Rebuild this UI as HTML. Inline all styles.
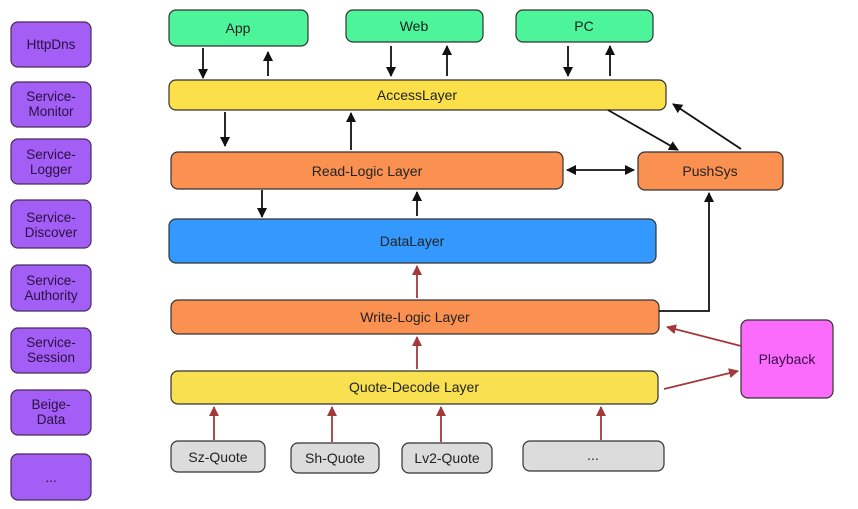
<!DOCTYPE html>
<html><head><meta charset="utf-8"><style>
html,body{margin:0;padding:0;background:#fff;}
svg{display:block;font-family:"Liberation Sans",sans-serif;}
</style></head><body>
<svg width="858" height="509" viewBox="0 0 858 509" xmlns="http://www.w3.org/2000/svg">
<defs>
<marker id="ab" markerWidth="10" markerHeight="10" refX="9" refY="5" orient="auto" markerUnits="userSpaceOnUse"><path d="M0,0 L10,5 L0,10 z" fill="#111"/></marker>
<marker id="abs" markerWidth="10" markerHeight="10" refX="1" refY="5" orient="auto" markerUnits="userSpaceOnUse"><path d="M10,0 L0,5 L10,10 z" fill="#111"/></marker>
<marker id="ar" markerWidth="10" markerHeight="10" refX="9" refY="5" orient="auto" markerUnits="userSpaceOnUse"><path d="M0,0 L10,5 L0,10 z" fill="#a33a3a"/></marker>
</defs>
<g stroke="#4a2a5a" stroke-width="1.2" fill="#a35ef5">
<rect x="11" y="22" width="80" height="45" rx="7"/>
<rect x="11" y="82" width="80" height="45" rx="7"/>
<rect x="11" y="139" width="80" height="45" rx="7"/>
<rect x="11" y="200" width="80" height="48" rx="7"/>
<rect x="11" y="265" width="80" height="46" rx="7"/>
<rect x="11" y="328" width="80" height="45" rx="7"/>
<rect x="11" y="390" width="80" height="45" rx="7"/>
<rect x="11" y="454" width="80" height="46" rx="7"/>
</g>
<g font-size="13.5" fill="#2a1040" text-anchor="middle">
<text x="51" y="49">HttpDns</text>
<text x="51" y="101">Service-</text><text x="51" y="116">Monitor</text>
<text x="51" y="159">Service-</text><text x="51" y="174">Logger</text>
<text x="51" y="222">Service-</text><text x="51" y="237">Discover</text>
<text x="51" y="285">Service-</text><text x="51" y="300">Authority</text>
<text x="51" y="347">Service-</text><text x="51" y="362">Session</text>
<text x="51" y="409">Beige-</text><text x="51" y="424">Data</text>
<text x="51" y="482">...</text>
</g>
<g stroke="#333" stroke-width="1.2">
<rect x="169" y="10" width="139" height="36" rx="7" fill="#4cf59a"/>
<rect x="346" y="10" width="137" height="32" rx="7" fill="#4cf59a"/>
<rect x="516" y="10" width="137" height="32" rx="7" fill="#4cf59a"/>
<rect x="169" y="80" width="497" height="30" rx="7" fill="#fbe04a"/>
<rect x="171" y="152" width="392" height="37" rx="7" fill="#fb9150"/>
<rect x="638" y="152" width="145" height="38" rx="7" fill="#fb9150"/>
<rect x="169" y="219" width="487" height="44" rx="7" fill="#3399ff"/>
<rect x="171" y="300" width="488" height="34" rx="7" fill="#fb9150"/>
<rect x="171" y="371" width="487" height="33" rx="7" fill="#f8e050"/>
<rect x="741" y="320" width="92" height="78" rx="7" fill="#fc6cfc"/>
<rect x="171" y="441" width="94" height="31" rx="7" fill="#dcdcdc"/>
<rect x="291" y="443" width="88" height="30" rx="7" fill="#dcdcdc"/>
<rect x="402" y="443" width="90" height="30" rx="7" fill="#dcdcdc"/>
<rect x="523" y="441" width="141" height="30" rx="7" fill="#dcdcdc"/>
</g>
<g font-size="14" fill="#222" text-anchor="middle">
<text x="238" y="33">App</text>
<text x="414" y="31">Web</text>
<text x="584" y="31">PC</text>
<text x="417" y="100">AccessLayer</text>
<text x="367" y="176">Read-Logic Layer</text>
<text x="710" y="176">PushSys</text>
<text x="412" y="246">DataLayer</text>
<text x="415" y="322">Write-Logic Layer</text>
<text x="414" y="392">Quote-Decode Layer</text>
<text x="787" y="364" fill="#3a0a4a">Playback</text>
<text x="218" y="462">Sz-Quote</text>
<text x="335" y="463">Sh-Quote</text>
<text x="447" y="463">Lv2-Quote</text>
<text x="593" y="460">...</text>
</g>
<g stroke="#111" stroke-width="1.8" fill="none">
<line x1="203" y1="48" x2="203" y2="78" marker-end="url(#ab)"/>
<line x1="268" y1="76" x2="268" y2="52" marker-end="url(#ab)"/>
<line x1="391" y1="46" x2="391" y2="76" marker-end="url(#ab)"/>
<line x1="447" y1="76" x2="447" y2="46" marker-end="url(#ab)"/>
<line x1="568" y1="46" x2="568" y2="76" marker-end="url(#ab)"/>
<line x1="610" y1="76" x2="610" y2="46" marker-end="url(#ab)"/>
<line x1="225" y1="112" x2="225" y2="146" marker-end="url(#ab)"/>
<line x1="351" y1="150" x2="351" y2="113" marker-end="url(#ab)"/>
<line x1="262" y1="190" x2="262" y2="217" marker-end="url(#ab)"/>
<line x1="417" y1="216" x2="417" y2="192" marker-end="url(#ab)"/>
<line x1="567" y1="170" x2="634" y2="170" marker-start="url(#abs)" marker-end="url(#ab)"/>
<line x1="608" y1="110" x2="678" y2="150" marker-end="url(#ab)"/>
<line x1="741" y1="149" x2="673" y2="104" marker-end="url(#ab)"/>
<polyline points="659,311 709,311 709,193" marker-end="url(#ab)"/>
</g>
<g stroke="#a33a3a" stroke-width="1.8" fill="none">
<line x1="417" y1="298" x2="417" y2="266" marker-end="url(#ar)"/>
<line x1="417" y1="369" x2="417" y2="337" marker-end="url(#ar)"/>
<line x1="214" y1="440" x2="214" y2="407" marker-end="url(#ar)"/>
<line x1="332" y1="442" x2="332" y2="407" marker-end="url(#ar)"/>
<line x1="441" y1="442" x2="441" y2="407" marker-end="url(#ar)"/>
<line x1="601" y1="440" x2="601" y2="407" marker-end="url(#ar)"/>
<line x1="741" y1="346" x2="667" y2="327" marker-end="url(#ar)"/>
<line x1="664" y1="389" x2="738" y2="371" marker-end="url(#ar)"/>
</g>
</svg>
</body></html>
